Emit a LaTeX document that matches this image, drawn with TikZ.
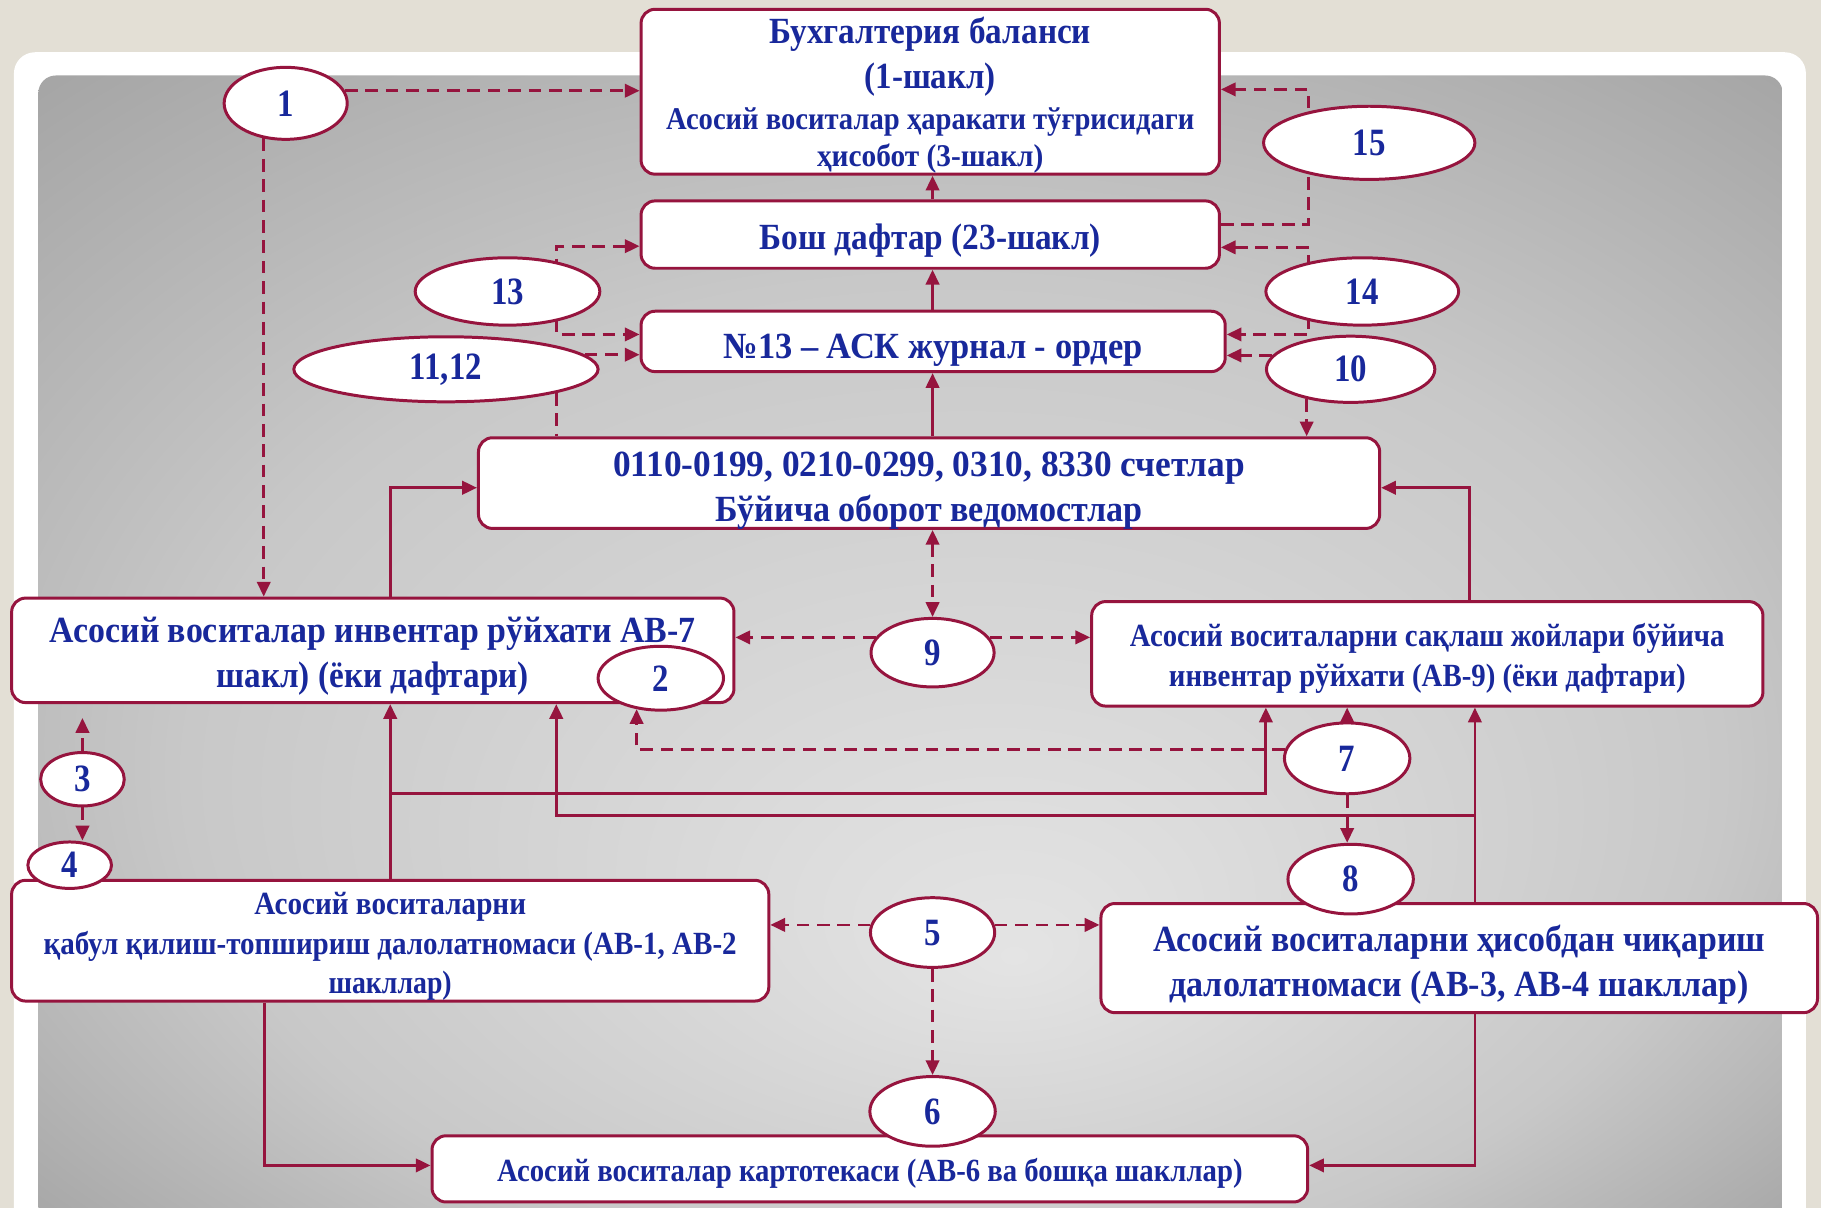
\documentclass[tikz,border=0pt]{standalone}
\usepackage{fontspec}
\setmainfont{Liberation Serif}[FakeStretch=0.85]
\usepackage{graphicx}
\usetikzlibrary{shapes.geometric,arrows.meta,calc}
\definecolor{beige}{RGB}{227,223,213}
\definecolor{crim}{RGB}{150,20,62}
\definecolor{navy}{RGB}{24,40,155}
\definecolor{bgin}{RGB}{228,228,228}
\definecolor{bgmid}{RGB}{200,200,200}
\definecolor{bgout}{RGB}{160,160,160}
\newdimen\pxu \pxu=0.011614cm
\newcommand{\fwid}[2]{\resizebox{#1\pxu}{\height}{#2}}
\newcommand{\lowr}[2][5]{\raisebox{-#1\pxu}[\height][\depth]{\begin{tabular}{@{}c@{}}#2\end{tabular}}}
\pgfdeclarelayer{bgl}\pgfdeclarelayer{lines}
\pgfsetlayers{bgl,lines,main}
\pgfdeclareradialshading{bgshade}{\pgfpoint{3bp}{-14bp}}{color(0bp)=(bgin); color(22bp)=(bgmid); color(38bp)=(bgout)}
\tikzset{
  box/.style={draw=crim, line width=0.85pt, fill=white, rounded corners=4pt, inner sep=0pt, text=navy},
  ell/.style={ellipse, draw=crim, line width=0.85pt, fill=white, inner sep=0pt, text=navy, font=\bfseries\fontsize{11}{13}\selectfont},
  dl/.style={draw=crim, line width=0.8pt, dash pattern=on 3.6pt off 2.2pt},
  sl/.style={draw=crim, line width=0.8pt},
  >={Triangle[length=4.2pt,width=3.8pt]}
}
\begin{document}
\begin{tikzpicture}[x=0.011614cm, y=-0.011614cm]
\useasboundingbox (0,0) rectangle (1568,1040);
\clip (0,0) rectangle (1568,1040);
\begin{pgfonlayer}{bgl}
\fill[beige] (0,0) rectangle (1568,1040);
\fill[white, rounded corners=6pt] (12,45) rectangle (1555,1080);
\begin{scope}
\clip[rounded corners=5pt] (33,65) rectangle (1535,1080);
\shade[shading=bgshade] (33,65) rectangle (1535,1040);
\end{scope}
\end{pgfonlayer}

% boxes
\node[box, minimum width=498\pxu, minimum height=142\pxu, font=\bfseries\fontsize{10.5}{10.6}\selectfont] (b1) at (801,79)
 {\lowr{\fwid{277}{Бухгалтерия баланси}\\[2pt]
  \fwid{113}{(1-шакл)}\\[1pt]
  {\fontsize{9}{10.6}\selectfont\fwid{455}{Асосий воситалар ҳаракати тўғрисидаги}}\\
  {\fontsize{9}{10.6}\selectfont\fwid{195}{ҳисобот (3-шакл)}}}};
\node[box, minimum width=498\pxu, minimum height=58\pxu, font=\bfseries\fontsize{10.5}{12.6}\selectfont] (b2) at (801,202)
 {\lowr{\fwid{294}{Бош дафтар (23-шакл)}}};
\node[box, minimum width=503\pxu, minimum height=52\pxu, font=\bfseries\fontsize{10.5}{12.6}\selectfont] (b3) at (803.5,294)
 {\lowr[7]{\fwid{361}{№13 – АСК журнал - ордер}}};
\node[box, minimum width=776\pxu, minimum height=78\pxu, font=\bfseries\fontsize{10.5}{12.9}\selectfont] (b4) at (800,416)
 {\lowr[6]{\fwid{544}{0110-0199, 0210-0299, 0310, 8330 счетлар}\\
  \fwid{368}{Бўйича оборот ведомостлар}}};
\node[box, minimum width=622\pxu, minimum height=90\pxu, font=\bfseries\fontsize{10.5}{12.9}\selectfont] (b5) at (321,560)
 {\lowr{\fwid{556}{Асосий воситалар инвентар рўйхати АВ-7}\\
  \fwid{269}{шакл) (ёки дафтари)}}};
\node[box, minimum width=578\pxu, minimum height=90\pxu, font=\bfseries\fontsize{9.2}{11.2}\selectfont] (b6) at (1229,563)
 {\lowr[4]{\fwid{512}{Асосий воситаларни сақлаш жойлари бўйича}\\
  \fwid{445}{инвентар рўйхати (АВ-9) (ёки дафтари)}}};
\node[box, minimum width=652\pxu, minimum height=104\pxu, font=\bfseries\fontsize{9.2}{11.2}\selectfont] (b7) at (336,810)
 {\lowr{\fwid{234}{Асосий воситаларни}\\
  \fwid{597}{қабул қилиш-топшириш далолатномаси (АВ-1, АВ-2}\\
  \fwid{106}{шакллар)}}};
\node[box, minimum width=617\pxu, minimum height=94\pxu, font=\bfseries\fontsize{10.5}{12.6}\selectfont] (b8) at (1256.5,825)
 {\lowr[6]{\fwid{527}{Асосий воситаларни ҳисобдан чиқариш}\\
  \fwid{499}{далолатномаси (АВ-3, АВ-4 шакллар)}}};
\node[box, minimum width=754\pxu, minimum height=57\pxu, font=\bfseries\fontsize{9.2}{11.2}\selectfont] (b9) at (749,1006.5)
 {\lowr[4]{\fwid{642}{Асосий воситалар картотекаси (АВ-6 ва бошқа шакллар)}}};

% ellipses
\node[ell, minimum width=106\pxu, minimum height=62\pxu] (e1) at (246,89) {1};
\node[ell, minimum width=182\pxu, minimum height=63\pxu] (e15) at (1179,123) {15};
\node[ell, minimum width=159\pxu, minimum height=58\pxu] (e13) at (437,251) {13};
\node[ell, minimum width=166\pxu, minimum height=58\pxu] (e14) at (1173,251) {14};
\node[ell, minimum width=262\pxu, minimum height=56\pxu] (e1112) at (384,318) {11,12};
\node[ell, minimum width=145\pxu, minimum height=57\pxu] (e10) at (1163,318) {10};
\node[ell, minimum width=106\pxu, minimum height=59\pxu] (e9) at (803,562) {9};
\node[ell, minimum width=108\pxu, minimum height=55\pxu] (e2) at (569,584) {2};
\node[ell, minimum width=108\pxu, minimum height=61\pxu] (e7) at (1160,653) {7};
\node[ell, minimum width=72\pxu, minimum height=46\pxu] (e3) at (71,671) {3};
\node[ell, minimum width=72\pxu, minimum height=40\pxu] (e4) at (60,745) {4};
\node[ell, minimum width=108\pxu, minimum height=60\pxu] (e8) at (1163,757) {8};
\node[ell, minimum width=107\pxu, minimum height=60\pxu] (e5) at (803,803) {5};
\node[ell, minimum width=108\pxu, minimum height=60\pxu] (e6) at (803,957) {6};

% junction coordinates
\coordinate (v15) at (1127,123);
\coordinate (v14) at (1127,251);
\coordinate (v13) at (479,251);
\coordinate (j1) at (336,420);
\coordinate (j2) at (1265,420);
\coordinate (j3) at (336,683);
\coordinate (j4) at (1090,683);
\coordinate (j5) at (1270,702);
\coordinate (j6) at (479,702);
\coordinate (j7) at (228,1003);

\begin{pgfonlayer}{lines}
\draw[dl,->] (e1.12) -- (e1.12 -| b1.west);
\draw[dl,->] (e1.238) -- (e1.238 |- b5.north);
\draw[dl,->] ($(b2.east)+(0,-9)$) -| (v15) |- ($(b1.east)+(0,-2)$);
\draw[dl,<->] ($(b2.east)+(0,11)$) -| (v14) |- ($(b3.east)+(0,-6)$);
\draw[dl,->] (e10.170) -- (e10.170 -| b3.east);
\draw[dl,->] (e10.214) -- (e10.214 |- b4.north);
\draw[dl,<->] ($(b2.west)+(0,10)$) -| (v13) |- ($(b3.west)+(0,-6)$);
\draw[dl,->] (e1112.6) -- (e1112.6 -| b3.west);
\draw[dl] (e1112.348) -- (e1112.348 |- b4.north);
\draw[sl,->] (b4.north -| e9) -- (b3.south -| e9);
\draw[sl,->] (b3.north -| e9) -- (b2.south -| e9);
\draw[sl,->] (b2.north -| e9) -- (b1.south -| e9);
\draw[dl,<->] (b4.south -| e9) -- (e9.north);
\draw[dl,->] (e9.165) -- (e9.165 -| b5.east);
\draw[dl,->] (e9.15) -- (e9.15 -| b6.west);
\draw[sl,->] (j1 |- b5.north) |- ($(b4.west)+(0,4)$);
\draw[sl,->] (j2 |- b6.north) |- ($(b4.east)+(0,4)$);
\draw[dl,->,shorten >=12\pxu] (e3.north) -- (e3.north |- b5.south);
\draw[dl,->] (e3.south) -- (e3.south |- e4.north);
\draw[dl,->] (e7.172) -| (e2.232);
\draw[dl,->] (e7.north) -- (e7.north |- b6.south);
\draw[dl,->] (e7.south) -- (e7.south |- e8.north);
\draw[sl,->] (j3 |- b7.north) -- (j3 |- b5.south);
\draw[sl,->] (j3) -| (j4 |- b6.south);
\draw[sl,->] (j5 |- b8.north) -- (j5 |- b6.south);
\draw[sl,->] (j5) -| (j6 |- b5.south);
\draw[dl,->] (e5.173) -- (e5.173 -| b7.east);
\draw[dl,->] (e5.7) -- (e5.7 -| b8.west);
\draw[dl,->] (e5.south) -- (e6.north);
\draw[sl,->] (j7 |- b7.south) |- ($(b9.west)+(0,-3)$);
\draw[sl,->] (j5 |- b8.south) |- ($(b9.east)+(0,-3)$);
\end{pgfonlayer}
\end{tikzpicture}
\end{document}
